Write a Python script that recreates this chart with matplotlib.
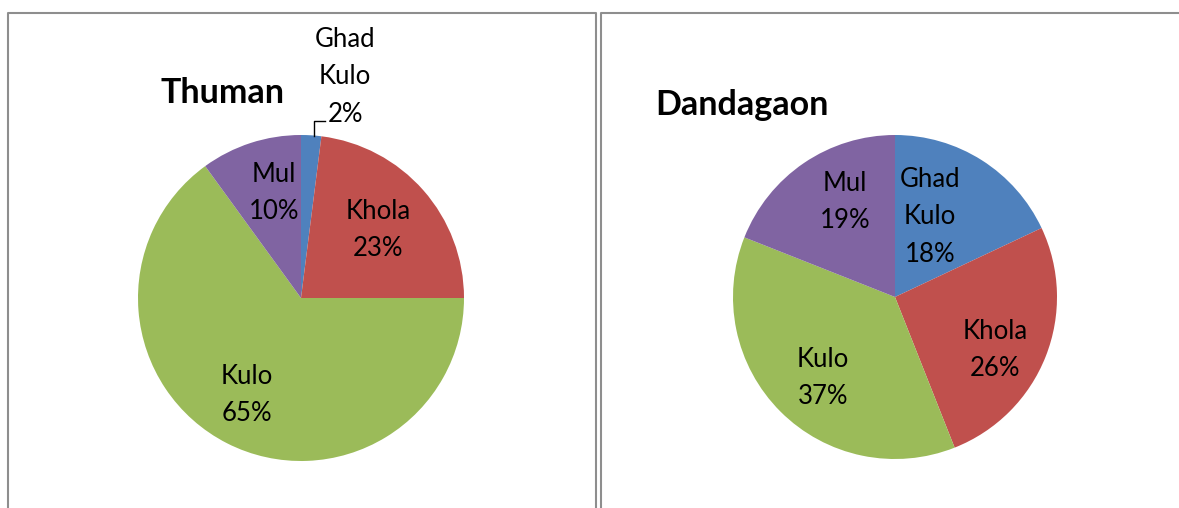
import matplotlib.pyplot as plt
from matplotlib.lines import Line2D

# data
categories = ['Ghad\nKulo', 'Khola', 'Kulo', 'Mul']
thuman = [2, 23, 65, 10]
dandagaon = [18, 26, 37, 19]
colors = ['#4F81BD', '#C0504D', '#9BBB59', '#8064A2']

# label positions in pie-radius units (layout only)
thuman_lbl = [(0.27, 1.356), (0.472, 0.417), (-0.331, -0.595), (-0.166, 0.644)]
dandagaon_lbl = [(0.216, 0.494), (0.617, -0.327), (-0.444, -0.5), (-0.309, 0.586)]

W, H = 1179, 508
plt.rcParams['font.family'] = ['Lato', 'DejaVu Sans']


def draw(ax, vals, lbls, title, title_xy, cx, cy, r, x0, x1):
    ax.pie(vals, colors=colors, startangle=90, counterclock=False,
           radius=1, wedgeprops=dict(linewidth=0))
    ax.set_aspect('auto')
    ax.set_xlim(-(cx - x0) / r, (x1 - cx) / r)
    ax.set_ylim(-(H - cy) / r, cy / r)
    ax.axis('off')
    for name, v, (x, y) in zip(categories, vals, lbls):
        ax.text(x, y, f'{name}\n{v}%', ha='center', va='center',
                fontsize=18.5, linespacing=1.62, color='black')
    ax.text(title_xy[0], title_xy[1], title, ha='left', va='baseline',
            fontsize=24.5, fontweight='bold', color='black')


fig = plt.figure(figsize=(W / 100, H / 100), dpi=100)
ax1 = fig.add_axes([0, 0, 598 / W, 1])
ax2 = fig.add_axes([598 / W, 0, (W - 598) / W, 1])

draw(ax1, thuman, thuman_lbl, 'Thuman', (-0.865, 1.196), 301, 298, 163, 0, 598)
draw(ax2, dandagaon, dandagaon_lbl, 'Dandagaon', (-1.481, 1.123), 895, 297, 162, 598, W)

# leader line for the small slice
ax1.plot([0.147, 0.08, 0.08], [1.086, 1.086, 0.994], color='black', lw=1)

# panel borders (pixel coordinates, y from top)
def px_line(xs, ys):
    fig.add_artist(Line2D([x / W for x in xs], [1 - y / H for y in ys],
                          color='#8e8e8e', lw=1.5))

px_line([8, 8, 596, 596], [H, 13, 13, H])
px_line([601, 601, W], [H, 13, 13])

fig.savefig('out.png', dpi=100)
